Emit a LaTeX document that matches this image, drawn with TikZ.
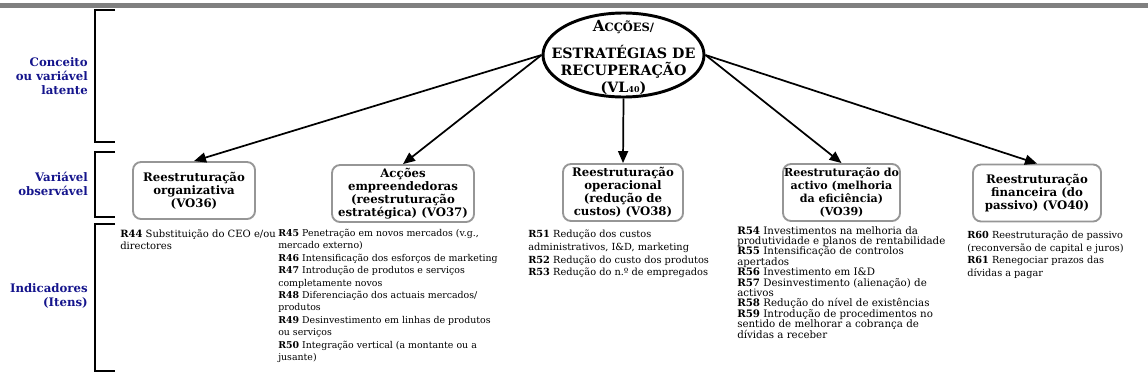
\documentclass[tikz,border=0pt]{standalone}
\usepackage{fontspec}
\setmainfont{DejaVu Serif}
\usetikzlibrary{shapes.geometric,arrows.meta}
\definecolor{labelblue}{RGB}{20,20,140}
\definecolor{boxgray}{RGB}{150,150,150}
\definecolor{rulegray}{RGB}{128,128,128}
\newcommand{\rlab}[1]{\textbf{#1}}
\newcommand{\itemfont}[2]{\fontsize{#1}{#2}\selectfont}
\begin{document}
\begin{tikzpicture}[x=0.75pt,y=-0.75pt,
  bracket/.style={line width=1.5pt},
  sidelabel/.style={text=labelblue,font=\bfseries\fontsize{8.8}{10.5}\selectfont,align=right,anchor=east,inner sep=0pt},
  obsbox/.style={draw=boxgray,line width=1.4pt,rounded corners=6pt,fill=white,
    font=\bfseries\fontsize{8.8}{9.8}\selectfont,align=center,inner sep=0pt,minimum height=42.75pt},
  latent/.style={draw,ellipse,line width=2.2pt,inner sep=0pt,minimum width=120.75pt,minimum height=63pt},
  latenttext/.style={font=\bfseries\fontsize{10.7}{12.5}\selectfont,align=center,inner sep=0pt},
  link/.style={line width=1.3pt,-{Triangle[length=9pt,width=7.5pt]}},
  items/.style={align=left,anchor=north west,inner sep=0pt},
]
\useasboundingbox (0,0) rectangle (1148,389);

% header rule
\fill[rulegray] (0,3) rectangle (1148,7.5);

% level brackets
\draw[bracket] (115,10) -- (95,10) -- (95,142) -- (115,142);
\draw[bracket] (115,152) -- (95,152) -- (95,217) -- (115,217);
\draw[bracket] (115,224) -- (95,224) -- (95,371) -- (115,371);

% level labels
\node[sidelabel] (lvl1) at (88,76) {Conceito\\ou variável\\latente};
\node[sidelabel] (lvl2) at (88,184) {Variável\\observável};
\node[sidelabel] (lvl3) at (88,296) {Indicadores\\(Itens)};

% latent variable
\node[latent] (ell) at (623.5,55) {};
\node[latenttext] (elltext) at (623.5,57.5) {{\fontsize{11.5}{12.5}\selectfont A}{\fontsize{8.6}{12.5}\selectfont CÇÕES/}\\[8pt]ESTRATÉGIAS DE\\RECUPERAÇÃO\\(VL{\fontsize{6}{6}\selectfont 40})};

% observed variables
\node[obsbox,minimum width=91.5pt] (b1) at (194,190.5) {Reestruturação\\organizativa\\(VO36)};
\node[obsbox,minimum width=106.5pt] (b2) at (403,193.5) {Acções\\empreendedoras\\(reestruturação\\estratégica) (VO37)};
\node[obsbox,minimum width=90pt] (b3) at (623,192.5) {Reestruturação\\operacional\\(redução de\\custos) (VO38)};
\node[obsbox,minimum width=87.75pt,font=\bfseries\fontsize{8.3}{9.8}\selectfont] (b4) at (841.5,192.5) {Reestruturação do\\activo (melhoria\\da eficiência)\\(VO39)};
\node[obsbox,minimum width=96pt] (b5) at (1037,193) {Reestruturação\\financeira (do\\passivo) (VO40)};

% links
\draw[link] (ell.west) -- (b1.north);
\draw[link] (ell.west) -- (b2.north);
\draw[link] (ell.south) -- (b3.north);
\draw[link] (ell.east) -- (b4.north);
\draw[link] (ell.east) -- (b5.north);

% indicators
\node[items,font=\itemfont{7.5}{9.3}] (i1) at (120,229) {\rlab{R44} Substituição do CEO e/ou\\directores};
\node[items,font=\itemfont{7.05}{9.3}] (i2) at (278,229) {\rlab{R45} Penetração em novos mercados (v.g.,\\mercado externo)\\
\rlab{R46} Intensificação dos esforços de marketing\\
\rlab{R47} Introdução de produtos e serviços\\completamente novos\\
\rlab{R48} Diferenciação dos actuais mercados/\\produtos\\
\rlab{R49} Desinvestimento em linhas de produtos\\ou serviços\\
\rlab{R50} Integração vertical (a montante ou a\\jusante)};
\node[items,font=\itemfont{7.35}{9.5}] (i3) at (528,230) {\rlab{R51} Redução dos custos\\administrativos, I\&D, marketing\\
\rlab{R52} Redução do custo dos produtos\\
\rlab{R53} Redução do n.º de empregados};
\node[items,font=\itemfont{7.7}{7.8}] (i4) at (737,226) {\rlab{R54} Investimentos na melhoria da\\produtividade e planos de rentabilidade\\
\rlab{R55} Intensificação de controlos\\apertados\\
\rlab{R56} Investimento em I\&D\\
\rlab{R57} Desinvestimento (alienação) de\\activos\\
\rlab{R58} Redução do nível de existências\\
\rlab{R59} Introdução de procedimentos no\\sentido de melhorar a cobrança de\\dívidas a receber};
\node[items,font=\itemfont{7.3}{9.4}] (i5) at (967,231) {\rlab{R60} Reestruturação de passivo\\(reconversão de capital e juros)\\
\rlab{R61} Renegociar prazos das\\dívidas a pagar};
\end{tikzpicture}
\end{document}
